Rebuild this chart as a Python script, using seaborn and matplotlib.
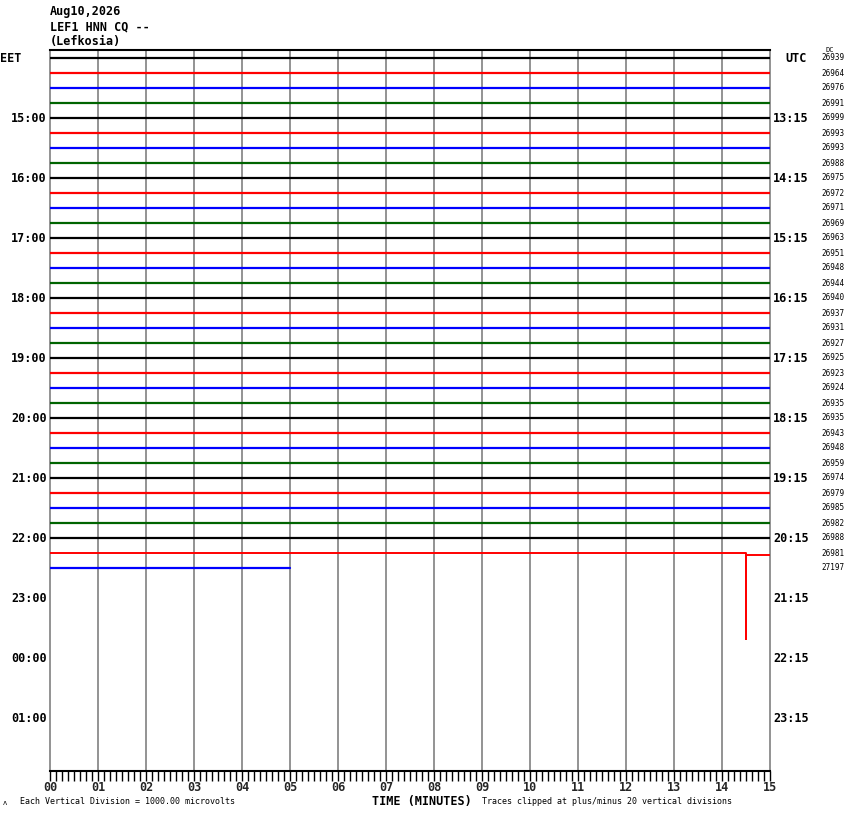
import matplotlib
matplotlib.use("Agg")
import matplotlib.pyplot as plt
import seaborn as sns
import numpy as np
import pandas as pd

# ---------------- data ----------------
header_lines = ["Aug10,2026", "LEF1 HNN CQ --", "(Lefkosia)"]
trace_colors = ["#000000", "#ff0000", "#0000ff", "#006400"]
n_traces = 35
trace_end_minute = [15] * 34 + [5]
dc_values = [26939, 26964, 26976, 26991, 26999, 26993, 26993, 26988,
             26975, 26972, 26971, 26969, 26963, 26951, 26948, 26944,
             26940, 26937, 26931, 26927, 26925, 26923, 26924, 26935,
             26935, 26943, 26948, 26959, 26974, 26979, 26985, 26982,
             26988, 26981, 27197]
eet_labels = ["15:00", "16:00", "17:00", "18:00", "19:00", "20:00",
              "21:00", "22:00", "23:00", "00:00", "01:00"]
utc_labels = ["13:15", "14:15", "15:15", "16:15", "17:15", "18:15",
              "19:15", "20:15", "21:15", "22:15", "23:15"]
label_rows = [4, 8, 12, 16, 20, 24, 28, 32, 36, 40, 44]
minute_ticks = list(range(0, 16))
minute_labels = ["%02d" % m for m in minute_ticks]
# red trace with the event (row 33): minutes / offset in divisions (down = +)
event_row = 33
event_minutes = [0, 14.49, 14.49, 14.51, 14.51, 14.95, 14.95, 15]
event_offsets = [0, 0, 5.75, 5.75, 0.1, 0.1, 0.1, 0.1]

# ---------------- figure ----------------
sns.set_style("white")
plt.rcParams['font.family'] = ['DejaVu Sans Mono', 'DejaVu Sans']
W, H = 850, 814
fig = plt.figure(figsize=(W / 100, H / 100), dpi=100)
L, R, T, B = 50, 770, 50, 771
ax = fig.add_axes([L / W, 1 - B / H, (R - L) / W, (B - T) / H])

row0_px, row_px = 58, 15
ax.set_xlim(0, 15)
ax.set_ylim((B - row0_px) / row_px, (T - row0_px) / row_px)

# grid lines
for m in range(1, 15):
    ax.axvline(m, color="#808080", lw=1.2, zorder=1)

# traces
rows = []
for i in range(n_traces):
    if i == event_row:
        continue
    rows.append(pd.DataFrame({"minute": [0, trace_end_minute[i]],
                              "y": [i, i], "trace": i}))
df = pd.concat(rows, ignore_index=True)
for i, g in df.groupby("trace"):
    sns.lineplot(data=g, x="minute", y="y", color=trace_colors[i % 4],
                 lw=1.6, ax=ax, estimator=None, sort=False, zorder=3)
ev = pd.DataFrame({"minute": event_minutes,
                   "y": [event_row + o for o in event_offsets]})
sns.lineplot(data=ev, x="minute", y="y", color=trace_colors[event_row % 4],
             lw=1.4, ax=ax, estimator=None, sort=False, zorder=3)

# spines
for s in ["left", "right"]:
    ax.spines[s].set_color("#808080")
    ax.spines[s].set_linewidth(1.2)
ax.spines["top"].set_color("black")
ax.spines["top"].set_linewidth(1.5)
ax.spines["bottom"].set_color("black")
ax.spines["bottom"].set_linewidth(1.5)

ax.set_xlabel("")
ax.set_ylabel("")
ax.set_yticks([])
ax.set_xticks(minute_ticks)
ax.set_xticklabels(minute_labels, fontweight="bold", fontsize=8.5)
ax.set_xticks(np.arange(0, 15.001, 0.125), minor=True)
ax.tick_params(axis="x", which="both", direction="out", length=7,
               width=1, color="black", pad=0.5, bottom=True)

# row labels
ytr = ax.get_yaxis_transform()
bold = dict(fontweight="bold", fontsize=8.5, color="black")
ax.text(-50 / 720, 0, "EET", ha="left", va="center", transform=ytr, **bold)
ax.text((785 - 50) / 720, 0, "UTC", ha="left", va="center", transform=ytr, **bold)
for r, e, u in zip(label_rows, eet_labels, utc_labels):
    ax.text(-3 / 720, r, e, ha="right", va="center", transform=ytr, **bold)
    ax.text((773 - 50) / 720, r, u, ha="left", va="center", transform=ytr, **bold)
for i, v in enumerate(dc_values):
    ax.text((821 - 50) / 720, i, str(v), ha="left", va="center",
            transform=ytr, fontsize=5.5, color="black")
ax.text((826 - 50) / 720, -0.5, "DC", ha="left", va="center",
        transform=ytr, fontsize=5, color="black")

# header
for k, line in enumerate(header_lines):
    fig.text(50 / W, 1 - (12 + 15 * k) / H, line, ha="left", va="center", **bold)

# footer
fig.text(422 / W, 1 - 801 / H, "TIME (MINUTES)", ha="center", va="center", **bold)
fig.text(20 / W, 1 - 801 / H, "Each Vertical Division = 1000.00 microvolts",
         ha="left", va="center", fontsize=6, color="black")
fig.text(482 / W, 1 - 801 / H, "Traces clipped at plus/minus 20 vertical divisions",
         ha="left", va="center", fontsize=6, color="black")
fig.text(3 / W, 1 - 803 / H, "ʌ", ha="left", va="center", fontsize=5, color="black")

fig.savefig("out.png", dpi=100, facecolor="white")
